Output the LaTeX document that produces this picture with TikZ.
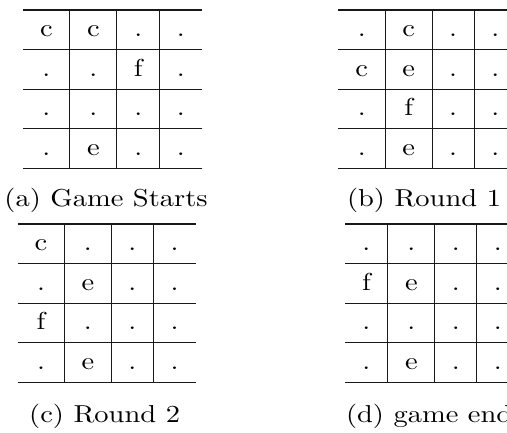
\documentclass[tikz,border=0pt]{standalone}
\usepackage{graphicx}
\newcommand{\gtxt}[1]{\scalebox{2.85}[2.45]{#1}}
\tikzset{
  cell/.style={anchor=base, inner sep=0pt, outer sep=0pt},
  capt/.style={anchor=base west, inner sep=0pt, outer sep=0pt},
  rulel/.style={line width=1.1pt, black!90},
}
\begin{document}
\begin{tikzpicture}[x=1pt,y=-1pt]
\useasboundingbox (0,0) rectangle (507,433);
\clip (0,0) rectangle (507,433);
% ---------- table (a)
\begin{scope}[shift={(23,10)}]
  \foreach \r in {0,...,4} \draw[rulel] (0,\r*39.6) -- (178.8,\r*39.6);
  \foreach \v in {46.9,93.8,136.7} \draw[rulel] (\v,0) -- (\v,158.4);
  \foreach \r/\a/\b/\c/\d in {0/c/c/./., 1/././f/., 2/./././., 3/./e/./.} {
    \node[cell] (ta\r1) at (23.45,\r*39.6+26.7) {\gtxt{\a}};
    \node[cell] (ta\r2) at (70.35,\r*39.6+26.7) {\gtxt{\b}};
    \node[cell] (ta\r3) at (115.25,\r*39.6+26.7) {\gtxt{\c}};
    \node[cell] (ta\r4) at (157.75,\r*39.6+26.7) {\gtxt{\d}};
  }
\end{scope}
\node[capt] (capa) at (4.5,207) {\gtxt{(a) Game Starts}};
% ---------- table (b)
\begin{scope}[shift={(338.3,10)}]
  \foreach \r in {0,...,4} \draw[rulel] (0,\r*39.6) -- (178,\r*39.6);
  \foreach \v in {46.9,93.8,135.9} \draw[rulel] (\v,0) -- (\v,158.4);
  \foreach \r/\a/\b/\c/\d in {0/./c/./., 1/c/e/./., 2/./f/./., 3/./e/./.} {
    \node[cell] (tb\r1) at (23.45,\r*39.6+26.7) {\gtxt{\a}};
    \node[cell] (tb\r2) at (70.35,\r*39.6+26.7) {\gtxt{\b}};
    \node[cell] (tb\r3) at (114.85,\r*39.6+26.7) {\gtxt{\c}};
    \node[cell] (tb\r4) at (156.95,\r*39.6+26.7) {\gtxt{\d}};
  }
\end{scope}
\node[capt] (capb) at (347,207) {\gtxt{(b) Round 1}};
% ---------- table (c)
\begin{scope}[shift={(17.6,224)}]
  \foreach \r in {0,...,4} \draw[rulel] (0,\r*39.6) -- (178,\r*39.6);
  \foreach \v in {46.9,93.8,135.9} \draw[rulel] (\v,0) -- (\v,158.4);
  \foreach \r/\a/\b/\c/\d in {0/c/././., 1/./e/./., 2/f/././., 3/./e/./.} {
    \node[cell] (tc\r1) at (23.45,\r*39.6+26.7) {\gtxt{\a}};
    \node[cell] (tc\r2) at (70.35,\r*39.6+26.7) {\gtxt{\b}};
    \node[cell] (tc\r3) at (114.85,\r*39.6+26.7) {\gtxt{\c}};
    \node[cell] (tc\r4) at (156.95,\r*39.6+26.7) {\gtxt{\d}};
  }
\end{scope}
\node[capt] (capc) at (29.2,422) {\gtxt{(c) Round 2}};
% ---------- table (d)
\begin{scope}[shift={(345,224)}]
  \foreach \r in {0,...,4} \draw[rulel] (0,\r*39.6) -- (174,\r*39.6);
  \foreach \v in {42.9,89.8,131.9} \draw[rulel] (\v,0) -- (\v,158.4);
  \foreach \r/\a/\b/\c/\d in {0/./././., 1/f/e/./., 2/./././., 3/./e/./.} {
    \node[cell] (td\r1) at (21.45,\r*39.6+26.7) {\gtxt{\a}};
    \node[cell] (td\r2) at (66.35,\r*39.6+26.7) {\gtxt{\b}};
    \node[cell] (td\r3) at (110.85,\r*39.6+26.7) {\gtxt{\c}};
    \node[cell] (td\r4) at (152.95,\r*39.6+26.7) {\gtxt{\d}};
  }
\end{scope}
\node[capt] (capd) at (346,422) {\gtxt{(d) game ends}};
\end{tikzpicture}
\end{document}
